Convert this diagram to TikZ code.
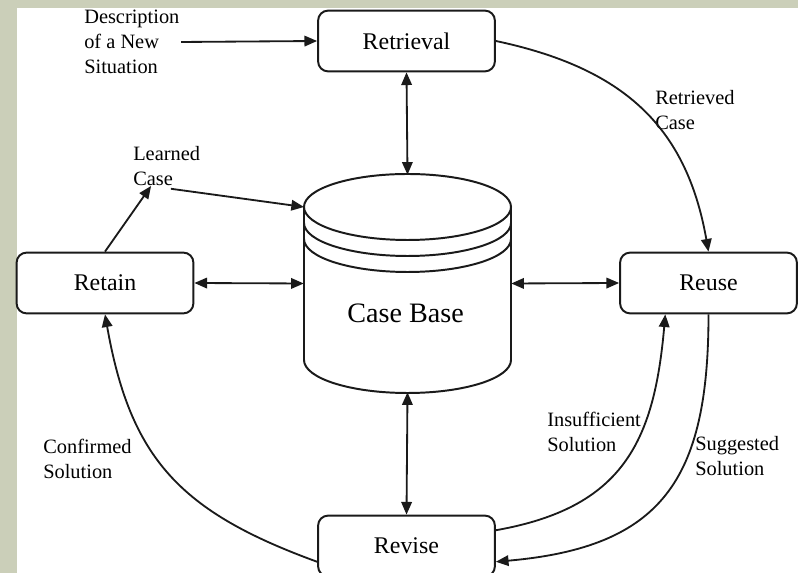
\documentclass[tikz,border=0pt]{standalone}
\usepackage{fontspec}
\setmainfont{Liberation Serif}
\usetikzlibrary{arrows.meta, positioning, calc}
\definecolor{mSage}{RGB}{203,207,185}
\definecolor{mInk}{HTML}{1A1A1A}

\begin{document}
\begin{tikzpicture}[
    box/.style={draw=mInk, line width=1.4pt, rounded corners=0.25cm, minimum width=4.42cm,
      minimum height=1.52cm, font=\fontsize{17}{20}\selectfont},
    lbl/.style={inner sep=0pt, anchor=west, align=left, font=\fontsize{14.5}{17.8}\selectfont},
    link/.style={draw=mInk, line width=1.3pt, -{Triangle[length=9pt, width=7.5pt]}},
    both/.style={link, {Triangle[length=9pt, width=7.5pt]}-{Triangle[length=9pt, width=7.5pt]}},
    cyl/.style={draw=mInk, line width=1.4pt}
  ]
    \useasboundingbox (0,0) rectangle (19.95,14.325);
    \fill[mSage] (0,0) rectangle (19.95,14.325);
    \fill[white] (0.425,0) rectangle (19.95,14.125);
    % case base drum
    \draw[cyl] (7.6,9.15) -- (7.6,5.325) arc[start angle=180, end angle=360, x radius=2.5875, y radius=0.825] -- (12.775,9.15);
    \draw[cyl] (10.1875,9.15) ellipse[x radius=2.5875, y radius=0.825];
    \draw[cyl] (7.6,8.75) arc[start angle=180, end angle=360, x radius=2.5875, y radius=0.825];
    \draw[cyl] (7.6,8.35) arc[start angle=180, end angle=360, x radius=2.5875, y radius=0.825];
    \node[minimum width=5.175cm, minimum height=5.425cm] (base) at (10.1875,7.2375) {};
    \coordinate (baseTL) at (7.6,9.15);
    \node[font=\fontsize{20}{24}\selectfont] (basetext) at (10.14,6.5) {Case Base};
    % the four steps
    \node[box] (retrieval) at (10.1625,13.3) {Retrieval};
    \node[box] (retain) at (2.625,7.25) {Retain};
    \node[box] (reuse) at (17.7125,7.25) {Reuse};
    \node[box] (revise) at (10.1625,0.675) {Revise};
    % labels
    \node[lbl] (desc) at (2.1,13.275) {Description\\of a New\\Situation};
    \node[lbl] (learned) at (3.325,10.175) {Learned\\Case};
    \node[lbl] (retrieved) at (16.375,11.575) {Retrieved\\Case};
    \node[lbl] (insufficient) at (13.675,3.525) {Insufficient\\Solution};
    \node[lbl] (suggested) at (17.375,2.925) {Suggested\\Solution};
    \node[lbl] (confirmed) at (1.075,2.85) {Confirmed\\Solution};
    % connectors
    \draw[link] ([xshift=1pt]desc.east) -- (retrieval.west);
    \draw[both] (retrieval.south) -- (base.north);
    \draw[both] (base.south) -- (revise.north);
    \draw[both] (retain.east) -- (base.west);
    \draw[both] (base.east) -- (reuse.west);
    \draw[link] (retain.north) -- (learned.232);
    \draw[link] ([xshift=3pt,yshift=-2pt]learned.south) -- (baseTL);
    \draw[link] (retrieval.east) to[out=-12, in=100, looseness=1.1] (reuse.north);
    \draw[link] (revise.10) to[out=10, in=-95, looseness=1.2] (reuse.216);
    \draw[link] (reuse.south) to[out=-90, in=5, looseness=1.3] (revise.-10);
    \draw[link] (revise.190) to[out=160, in=-80, looseness=1.15] (retain.south);
  \end{tikzpicture}
\end{document}
